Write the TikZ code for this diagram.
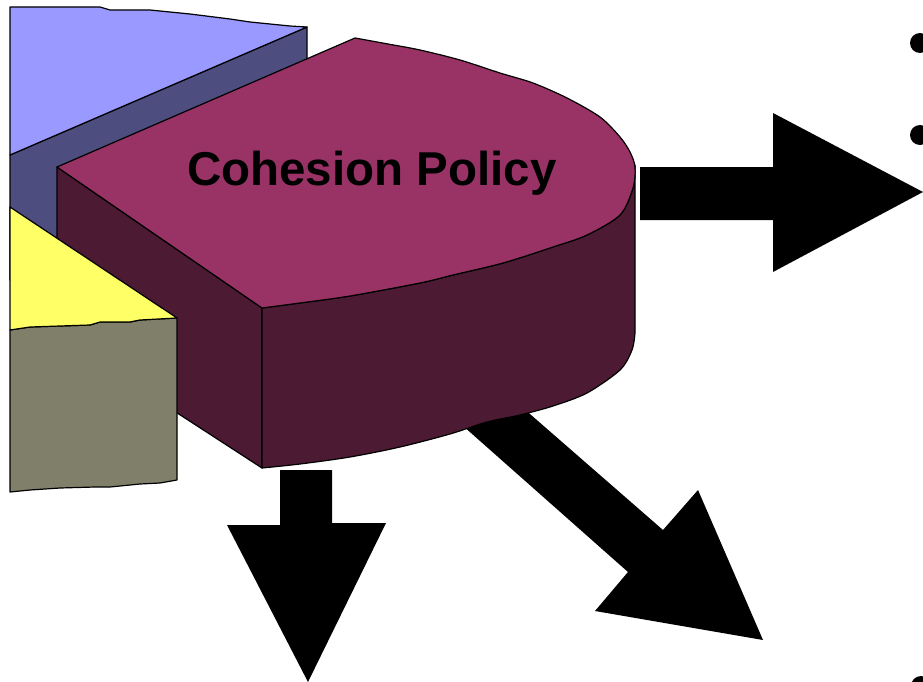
\documentclass[tikz,border=0pt]{standalone}
\usepackage{fontspec}
\setmainfont{Liberation Sans}
\definecolor{bluetop}{HTML}{9999FF}
\definecolor{blueside}{HTML}{4D4D80}
\definecolor{magtop}{HTML}{993366}
\definecolor{magside}{HTML}{4C1A33}
\definecolor{yeltop}{HTML}{FFFF66}
\definecolor{oliveside}{HTML}{80806A}
\begin{document}
\begin{tikzpicture}[x=1pt,y=-1pt,
  face/.style={draw=black,line width=1.2pt,line join=round},
  bigarrow/.style={fill=black},
  bulletdot/.style={fill=black}]
\useasboundingbox (0,0) rectangle (923,682);
\clip (0,0) rectangle (923,682);
% blue slice
\path[face,fill=blueside] (10,155) -- (307,27) -- (307,150) -- (10,280) -- cycle;
\path[face,fill=bluetop] (10,7) -- (100,7) -- (110,10) -- (150,10) -- (170,12) -- (190,14) -- (230,19) -- (250,22) -- (270,24) -- (290,26) -- (307,27) -- (10,155) -- cycle;
% diagonal arrow (behind magenta)
\coordinate (dA) at (410,379);
\coordinate (dB) at (628,572);
\coordinate (dC) at (595,611);
\coordinate (dTip) at (763,640);
\coordinate (dD) at (698,490);
\coordinate (dE) at (663,530);
\coordinate (dF) at (468,360);
\fill[bigarrow] (dA) -- (dB) -- (dC) -- (dTip) -- (dD) -- (dE) -- (dF) -- cycle;
% magenta slice
\path[face,fill=magside] (57,167) -- (262,308) -- (262,468) -- (57,335) -- cycle;
\path[face,fill=magside] (262,308) -- plot[smooth,tension=0.5] coordinates {(262,308) (300,303) (350,296) (420,283) (453,275) (503,263) (553,247) (587,235) (620,215) (633,188) (635,165)}
  -- (635,333) -- plot[smooth,tension=0.5] coordinates {(635,333) (632,350) (620,370) (587,393) (553,406) (520,415) (487,422) (450,434) (400,447) (350,457) (300,464) (262,468)} -- cycle;
\path[face,fill=magtop] (57,167) -- (355,38) -- plot[smooth,tension=0.5] coordinates {(355,38) (388,44) (420,50) (460,60) (500,73) (533,83) (567,98) (600,117) (620,137) (630,152) (635,167) (633,188) (620,215) (587,235) (553,247) (503,263) (453,275) (420,283) (350,296) (300,303) (262,308)} -- cycle;
% yellow / olive slice
\path[face,fill=oliveside] (10,330) -- (30,327) -- (60,326) -- (90,325) -- (100,322) -- (130,322) -- (140,320) -- (177,318) -- (177,480) -- (160,483) -- (140,484) -- (110,487) -- (95,487) -- (60,488) -- (30,490) -- (10,492) -- cycle;
\path[face,fill=yeltop] (10,207) -- (177,318) -- (140,320) -- (130,322) -- (100,322) -- (90,325) -- (60,326) -- (30,327) -- (10,330) -- cycle;
% right arrow
\coordinate (rA) at (640,167);
\coordinate (rB) at (773,167);
\coordinate (rC) at (773,113);
\coordinate (rTip) at (923,192);
\coordinate (rD) at (773,272);
\coordinate (rE) at (773,220);
\coordinate (rF) at (640,220);
\fill[bigarrow] (rA) -- (rB) -- (rC) -- (rTip) -- (rD) -- (rE) -- (rF) -- cycle;
% down arrow
\coordinate (gA) at (280,470);
\coordinate (gB) at (332,470);
\coordinate (gC) at (332,523);
\coordinate (gD) at (386,523);
\coordinate (gTip) at (308,682);
\coordinate (gE) at (227,525);
\coordinate (gF) at (280,525);
\fill[bigarrow] (gA) -- (gB) -- (gC) -- (gD) -- (gTip) -- (gE) -- (gF) -- cycle;
% label
\node[anchor=base,inner sep=0pt,font=\fontsize{47.5}{50}\selectfont\bfseries] (label) at (372,185) {Cohesion Policy};
% bullets
\fill[bulletdot] (920,43) circle (10);
\fill[bulletdot] (920,135) circle (10);
\fill[bulletdot] (921,686) circle (10);
\end{tikzpicture}
\end{document}
